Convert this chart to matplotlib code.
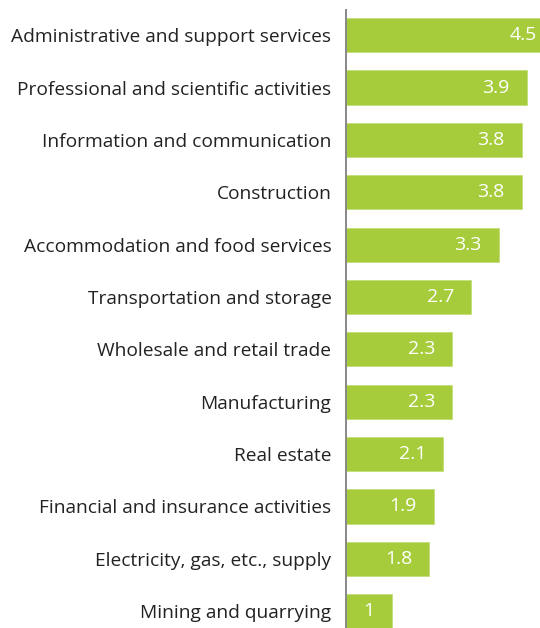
import matplotlib.pyplot as plt

categories = [
    "Administrative and support services",
    "Professional and scientific activities",
    "Information and communication",
    "Construction",
    "Accommodation and food services",
    "Transportation and storage",
    "Wholesale and retail trade",
    "Manufacturing",
    "Real estate",
    "Financial and insurance activities",
    "Electricity, gas, etc., supply",
    "Mining and quarrying",
]
values = [4.5, 3.9, 3.8, 3.8, 3.3, 2.7, 2.3, 2.3, 2.1, 1.9, 1.8, 1]
value_labels = ["4.5", "3.9", "3.8", "3.8", "3.3", "2.7", "2.3", "2.3", "2.1", "1.9", "1.8", "1"]

plt.rcParams['font.family'] = ['Open Sans', 'DejaVu Sans']

fig = plt.figure(figsize=(5.4, 6.28), dpi=100)
ax = fig.add_axes([346 / 540, 0, 194 / 540, 618 / 628])

pos = list(range(len(categories)))
ax.barh(pos, values, height=0.65, color='#a6cc3b', edgecolor='#c3dd7a', linewidth=0.6)

for p, v, lab in zip(pos, values, value_labels):
    x = v - 0.37 if v > 1.2 else v / 2
    ha = 'right' if v > 1.2 else 'center'
    ax.text(x, p, lab, ha=ha, va='center', color='white', fontsize=14)

ax.set_xlim(0, 4.19)
ax.set_ylim(11.32, -0.48)
ax.set_yticks(pos)
ax.set_yticklabels(categories, fontsize=13.8, color='#222222')
ax.tick_params(axis='y', length=0, pad=10.5)
ax.set_xticks([])
for s in ['top', 'right', 'bottom']:
    ax.spines[s].set_visible(False)
ax.spines['left'].set_color('#888888')
ax.spines['left'].set_linewidth(1.4)

fig.savefig('out.png', dpi=100)
